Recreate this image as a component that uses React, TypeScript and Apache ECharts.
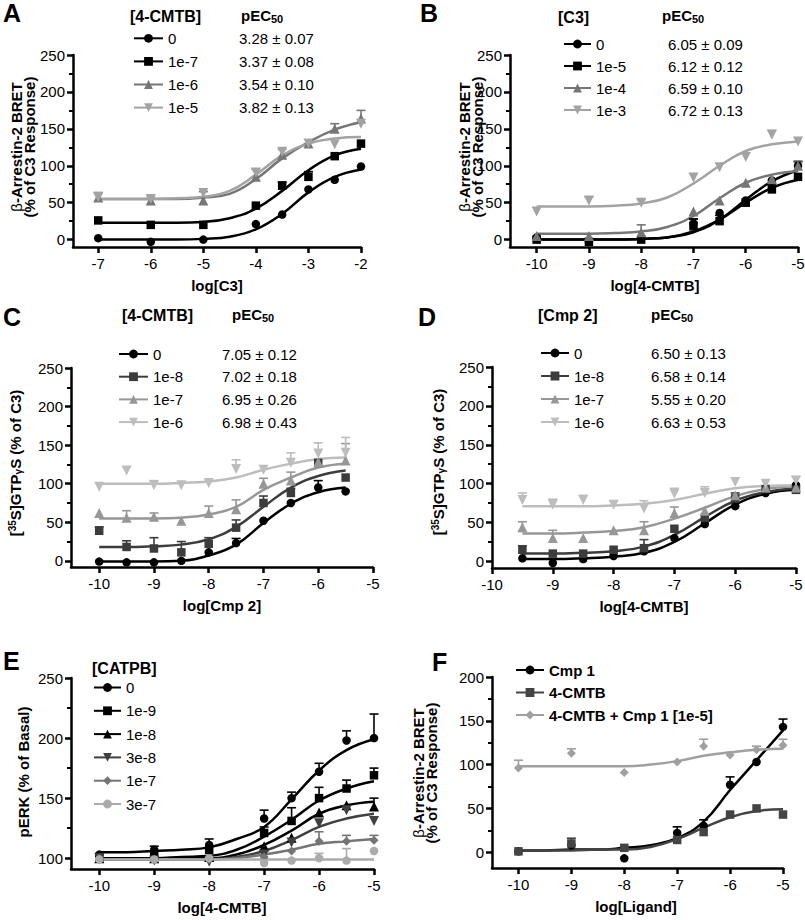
import React, { useEffect, useRef } from 'react';
import * as echarts from 'echarts';

const FONT = '"Liberation Sans", Arial, Helvetica, sans-serif';

// ---------------- Panel A ----------------
const A_NAMES = ['0', '1e-7', '1e-6', '1e-5'];
const A_PEC50 = ['3.28 ± 0.07', '3.37 ± 0.08', '3.54 ± 0.10', '3.82 ± 0.13'];
const A_X = [-7, -6, -5, -4, -3.5, -3, -2.5, -2];
const A_Y = [
  [2, -3, 0, 21, 34, 68, 81, 99],
  [26, 20, 20, 46, 73, 85, 113, 130],
  [57, 53, 53, 85, 115, 130, 150, 164],
  [57, 55, 63, 91, 119, 130, 129, 157],
];
const A_ERR = [
  [null, null, null, null, null, null, null, null],
  [null, null, null, null, 78, 92, null, null],
  [63, null, 65, null, null, null, 157, 175],
  [64, 58, null, 95, 122, null, null, null],
];
const A_CX = [-7, -6.5, -6, -5.5, -5, -4.5, -4, -3.5, -3, -2.5, -2];
const A_CY = [
  [0, 0, 0, 0, 1, 4, 14, 35, 64, 85, 95],
  [23, 23, 23, 23, 24, 29, 42, 66, 94, 114, 123],
  [55, 55, 55, 55, 57, 62, 82, 110, 132, 149, 159],
  [55, 55, 55, 56, 58, 66, 88, 114, 130, 137, 139],
];

// ---------------- Panel B ----------------
const B_NAMES = ['0', '1e-5', '1e-4', '1e-3'];
const B_PEC50 = ['6.05 ± 0.09', '6.12 ± 0.12', '6.59 ± 0.10', '6.72 ± 0.13'];
const B_X = [-10, -9, -8, -7, -6.5, -6, -5.5, -5];
const B_Y = [
  [3, -3, 2, 22, 36, 53, 80, 100],
  [0, -3, 0, 18, 25, 50, 68, 85],
  [5, 5, 10, 38, 53, 77, 82, 100],
  [38, 53, 50, 84, 98, 112, 142, 133],
];
const B_ERR = [
  [null, null, null, 28, null, null, null, 106],
  [null, null, null, 28, 33, null, 74, null],
  [null, null, 20, null, null, null, null, 105],
  [null, 58, 54, null, null, 117, 148, null],
];
const B_CX = [-10, -9.5, -9, -8.5, -8, -7.5, -7, -6.5, -6, -5.5, -5];
const B_CY = [
  [0, 0, 0, 0, 1, 3, 10, 27, 54, 79, 94],
  [0, 0, 0, 0, 1, 3, 11, 27, 50, 70, 81],
  [8, 8, 8, 9, 11, 17, 32, 56, 77, 88, 93],
  [45, 45, 45, 46, 49, 57, 76, 100, 120, 129, 133],
];

// ---------------- Panel C ----------------
const C_NAMES = ['0', '1e-8', '1e-7', '1e-6'];
const C_PEC50 = ['7.05 ± 0.12', '7.02 ± 0.18', '6.95 ± 0.26', '6.98 ± 0.43'];
const C_X = [-10, -9.5, -9, -8.5, -8, -7.5, -7, -6.5, -6, -5.5];
const C_Y = [
  [-1, -2, -2, 0, 11, 23, 52, 75, 95, 90],
  [39, 18, 16, 11, 22, 43, 75, 88, 127, 108],
  [62, 56, 57, 52, 62, 67, 100, 104, 128, 130],
  [96, 117, 98, 98, 101, 119, 118, 127, 139, 140],
];
const C_ERR = [
  [null, null, null, null, null, 29, null, null, 104, null],
  [44, 26, 30, 25, 30, 53, 84, 94, null, null],
  [null, 65, 62, null, 71, 79, 107, 115, null, 152],
  [null, 122, 104, null, null, 131, null, 140, 153, 160],
];
const C_CX = [-10, -9.5, -9, -8.5, -8, -7.5, -7, -6.5, -6, -5.5];
const C_CY = [
  [-1, -1, -1, 0, 7, 21, 49, 74, 89, 95],
  [18, 18, 19, 21, 28, 44, 70, 95, 110, 117],
  [55, 55, 55, 56, 60, 70, 92, 108, 121, 126],
  [100, 100, 100, 101, 103, 108, 118, 126, 132, 134],
];

// ---------------- Panel D ----------------
const D_NAMES = ['0', '1e-8', '1e-7', '1e-6'];
const D_PEC50 = ['6.50 ± 0.13', '6.58 ± 0.14', '5.55 ± 0.20', '6.63 ± 0.53'];
const D_X = [-9.5, -9, -8.5, -8, -7.5, -7, -6.5, -6, -5.5, -5];
const D_Y = [
  [4, -2, 3, 7, 13, 30, 48, 71, 88, 98],
  [15, 10, 10, 15, 17, 42, 56, 81, 93, 92],
  [44, 30, 30, 40, 40, 62, 65, 85, 95, 95],
  [79, 73, 79, 73, 68, 87, 88, 102, 100, 104],
];
const D_ERR = [
  [null, null, null, null, null, null, null, null, null, null],
  [20, null, null, null, 28, null, null, 88, null, null],
  [51, 40, null, null, 51, 70, null, null, null, null],
  [88, 80, 85, 78, 78, 94, 96, null, null, 109],
];
const D_CX = [-9.5, -9, -8.5, -8, -7.5, -7, -6.5, -6, -5.5, -5];
const D_CY = [
  [3, 3, 4, 6, 11, 25, 49, 73, 87, 92],
  [10, 10, 11, 13, 19, 34, 57, 78, 89, 94],
  [36, 36, 37, 39, 44, 55, 69, 84, 93, 97],
  [71, 71, 71, 72, 74, 79, 87, 94, 97, 98],
];

// ---------------- Panel E ----------------
const E_NAMES = ['0', '1e-9', '1e-8', '3e-8', '1e-7', '3e-7'];
const E_X = [-10, -9, -8, -7, -6.5, -6, -5.5, -5];
const E_Y = [
  [103, 107, 111, 133, 150, 172, 198, 200],
  [101, 102, 107, 121, 131, 150, 158, 169],
  [100, 100, 101, 110, 117, 138, 144, 143],
  [100, 98, 97, 103, 113, 129, 140, 131],
  [100, 99, 99, 101, 106, 114, 114, 115],
  [99, 99, 100, 96, 98, 100, 98, 106],
];
const E_ERR = [
  [null, 110, 116, 140, 155, 179, 206, 220],
  [null, null, null, 126, 142, 159, 165, 175],
  [null, null, null, null, null, null, null, 150],
  [null, null, null, null, null, null, null, null],
  [null, null, null, null, null, 122, 119, 119],
  [null, null, null, null, null, 104, 108, null],
];
const E_CX = [-10, -9.5, -9, -8.5, -8, -7.5, -7, -6.5, -6, -5.5, -5];
const E_CY = [
  [105, 105, 106, 107, 109, 116, 126, 149, 173, 190, 199],
  [100, 100, 100, 101, 102, 107, 118, 132, 148, 158, 164],
  [99, 99, 99, 100, 100, 103, 111, 123, 137, 144, 147],
  [99, 99, 99, 99, 99, 101, 106, 115, 126, 133, 137],
  [99, 99, 99, 99, 99, 100, 103, 107, 112, 114, 116],
  [99, 99, 99, 99, 99, 99, 99, 99, 99, 99, 99],
];

// ---------------- Panel F ----------------
const F_NAMES = ['Cmp 1', '4-CMTB', '4-CMTB + Cmp 1 [1e-5]'];
const F_X = [-10, -9, -8, -7, -6.5, -6, -5.5, -5];
const F_Y = [
  [1, 8, -7, 22, 30, 77, 103, 143],
  [1, 10, 5, 14, 23, 43, 50, 43],
  [96, 113, 91, 103, 121, 111, 117, 122],
];
const F_ERR = [
  [null, null, null, 29, 37, 86, null, 152],
  [null, 16, null, null, null, null, null, null],
  [105, 118, null, null, 129, null, 121, 129],
];
const F_CX = [-10, -9.5, -9, -8.5, -8, -7.5, -7, -6.5, -6, -5.5, -5];
const F_CY = [
  [2, 2, 3, 3, 5, 8, 16, 35, 71, 105, 139],
  [2, 2, 2, 3, 3, 6, 15, 28, 40, 47, 49],
  [98, 98, 98, 98, 98, 100, 104, 110, 114, 117, 118],
];

// tick values
const TICKS_A = [-7, -6, -5, -4, -3, -2];
const TICKS_10_5 = [-10, -9, -8, -7, -6, -5];
const Y_MAJOR_250 = [0, 50, 100, 150, 200, 250];
const Y_MINOR_250 = [25, 75, 125, 175, 225];
const Y_MAJOR_E = [100, 150, 200, 250];
const Y_MINOR_E = [125, 175, 225];
const Y_MAJOR_F = [0, 50, 100, 150, 200];
const Y_MINOR_F = [25, 75, 125, 175];

// styles (not data)
const COL_AB = ['#000000', '#000000', '#767676', '#a3a3a3'];
const COL_CD = ['#000000', '#3c3c3c', '#979797', '#bdbdbd'];
const COL_E = ['#000000', '#000000', '#000000', '#404040', '#757575', '#ababab'];
const COL_F = ['#000000', '#444444', '#a0a0a0'];
const SYM_4 = ['circle', 'rect', 'triangle', 'triangle'];
const ROT_4 = [0, 0, 0, 180];
const SYM_E = ['circle', 'rect', 'triangle', 'triangle', 'diamond', 'circle'];
const ROT_E = [0, 0, 0, 180, 0, 0];
const SYM_F = ['circle', 'rect', 'diamond'];
const ROT_F = [0, 0, 0];

type Panel = {
  key: string;
  grid: { left: number; top: number; width: number; height: number };
  xMin: number; xMax: number; yMin: number; yMax: number;
  xTicks: number[]; yMajor: number[]; yMinor: number[];
  names: string[]; pec?: string[];
  colors: string[]; symbols: string[]; rotates: number[];
  x: number[]; y: number[][]; err: (number | null)[][];
  cx: number[]; cy: number[][];
  legend: { left: number; top: number; gap: number; itemWidth: number; nameWidth?: number; bold?: boolean };
};

const PANELS: Panel[] = [
  {
    key: 'A', grid: { left: 73, top: 55, width: 288, height: 192 },
    xMin: -7.48, xMax: -2, yMin: -10, yMax: 250,
    xTicks: TICKS_A, yMajor: Y_MAJOR_250, yMinor: Y_MINOR_250,
    names: A_NAMES, pec: A_PEC50, colors: COL_AB, symbols: SYM_4, rotates: ROT_4,
    x: A_X, y: A_Y, err: A_ERR, cx: A_CX, cy: A_CY,
    legend: { left: 133, top: 30.8, gap: 8.1, itemWidth: 29, nameWidth: 71 },
  },
  {
    key: 'B', grid: { left: 510, top: 55, width: 288, height: 192 },
    xMin: -10.51, xMax: -5, yMin: -10, yMax: 250,
    xTicks: TICKS_10_5, yMajor: Y_MAJOR_250, yMinor: Y_MINOR_250,
    names: B_NAMES, pec: B_PEC50, colors: COL_AB, symbols: SYM_4, rotates: ROT_4,
    x: B_X, y: B_Y, err: B_ERR, cx: B_CX, cy: B_CY,
    legend: { left: 563, top: 36.5, gap: 7, itemWidth: 27, nameWidth: 72 },
  },
  {
    key: 'C', grid: { left: 71, top: 368, width: 302, height: 199 },
    xMin: -10.515, xMax: -5, yMin: -8, yMax: 250,
    xTicks: TICKS_10_5, yMajor: Y_MAJOR_250, yMinor: Y_MINOR_250,
    names: C_NAMES, pec: C_PEC50, colors: COL_CD, symbols: SYM_4, rotates: ROT_4,
    x: C_X, y: C_Y, err: C_ERR, cx: C_CX, cy: C_CY,
    legend: { left: 118, top: 346.5, gap: 7.7, itemWidth: 29, nameWidth: 69 },
  },
  {
    key: 'D', grid: { left: 492, top: 367, width: 304, height: 201 },
    xMin: -10, xMax: -5, yMin: -8.5, yMax: 250,
    xTicks: TICKS_10_5, yMajor: Y_MAJOR_250, yMinor: Y_MINOR_250,
    names: D_NAMES, pec: D_PEC50, colors: COL_CD, symbols: SYM_4, rotates: ROT_4,
    x: D_X, y: D_Y, err: D_ERR, cx: D_CX, cy: D_CY,
    legend: { left: 540, top: 345.5, gap: 8, itemWidth: 28, nameWidth: 77 },
  },
  {
    key: 'E', grid: { left: 71, top: 678, width: 303, height: 191 },
    xMin: -10.515, xMax: -5, yMin: 91, yMax: 250,
    xTicks: TICKS_10_5, yMajor: Y_MAJOR_E, yMinor: Y_MINOR_E,
    names: E_NAMES, colors: COL_E, symbols: SYM_E, rotates: ROT_E,
    x: E_X, y: E_Y, err: E_ERR, cx: E_CX, cy: E_CY,
    legend: { left: 93, top: 680, gap: 8.3, itemWidth: 27 },
  },
  {
    key: 'F', grid: { left: 492, top: 677, width: 291, height: 191 },
    xMin: -10.5, xMax: -5, yMin: -18, yMax: 200,
    xTicks: TICKS_10_5, yMajor: Y_MAJOR_F, yMinor: Y_MINOR_F,
    names: F_NAMES, colors: COL_F, symbols: SYM_F, rotates: ROT_F,
    x: F_X, y: F_Y, err: F_ERR, cx: F_CX, cy: F_CY,
    legend: { left: 515, top: 662.5, gap: 7.5, itemWidth: 28, bold: true },
  },
];

const AXIS_W = 2.5;

function buildOption(): any {
  const grid: any[] = [];
  const xAxis: any[] = [];
  const yAxis: any[] = [];
  const series: any[] = [];
  const legend: any[] = [];

  PANELS.forEach((p, i) => {
    grid.push({ ...p.grid, containLabel: false, outerBoundsMode: 'none' });
    xAxis.push({
      gridIndex: i, type: 'value', min: p.xMin, max: p.xMax,
      axisLine: { show: true, onZero: false, lineStyle: { color: '#000', width: AXIS_W } },
      axisTick: { show: true, customValues: p.xTicks, length: 6, inside: false, lineStyle: { color: '#000', width: AXIS_W } },
      axisLabel: { show: true, customValues: p.xTicks, fontSize: 15, color: '#000', fontFamily: FONT, margin: 9, hideOverlap: false },
      splitLine: { show: false }, minorTick: { show: false },
    });
    yAxis.push({
      gridIndex: i, type: 'value', min: p.yMin, max: p.yMax, position: 'left',
      axisLine: { show: true, onZero: false, lineStyle: { color: '#000', width: AXIS_W } },
      axisTick: { show: true, customValues: p.yMajor, length: 6, inside: false, lineStyle: { color: '#000', width: AXIS_W } },
      axisLabel: { show: true, customValues: p.yMajor, fontSize: 15, color: '#000', fontFamily: FONT, margin: 8, hideOverlap: false },
      splitLine: { show: false },
    });
    yAxis.push({
      gridIndex: i, type: 'value', min: p.yMin, max: p.yMax, position: 'left', offset: 0,
      axisLine: { show: false, onZero: false },
      axisTick: { show: true, customValues: p.yMinor, length: 4, inside: false, lineStyle: { color: '#000', width: 2 } },
      axisLabel: { show: false },
      splitLine: { show: false },
    });

    const yIdx = i * 2;
    // fitted curves
    p.names.forEach((n, k) => {
      series.push({
        type: 'line', name: `${p.key}|${n}`, xAxisIndex: i, yAxisIndex: yIdx,
        data: p.cx.map((xv, j) => [xv, p.cy[k][j]]),
        smooth: 0.45, showSymbol: false,
        symbol: p.symbols[k], symbolRotate: p.rotates[k], symbolSize: 8,
        color: p.colors[k],
        lineStyle: { color: p.colors[k], width: 2.5 },
        itemStyle: { color: p.colors[k], borderWidth: 0 },
        silent: true, z: 2,
      });
    });
    // error bars
    p.names.forEach((n, k) => {
      const d: number[][] = [];
      p.x.forEach((xv, j) => {
        const e = p.err[k][j];
        if (e !== null && e !== undefined) d.push([xv, p.y[k][j], e]);
      });
      const col = p.colors[k];
      series.push({
        type: 'custom', name: `${p.key}|${n}|err`, xAxisIndex: i, yAxisIndex: yIdx,
        data: d, silent: true, z: 3,
        renderItem: (_params: any, api: any) => {
          const xv = api.value(0), yv = api.value(1), ev = api.value(2);
          const p0 = api.coord([xv, yv]);
          const p1 = api.coord([xv, ev]);
          return {
            type: 'group',
            children: [
              { type: 'line', shape: { x1: p0[0], y1: p0[1], x2: p1[0], y2: p1[1] }, style: { stroke: col, lineWidth: 1.6 } },
              { type: 'line', shape: { x1: p1[0] - 4.5, y1: p1[1], x2: p1[0] + 4.5, y2: p1[1] }, style: { stroke: col, lineWidth: 1.6 } },
            ],
          };
        },
      });
    });
    // data points
    p.names.forEach((n, k) => {
      const sym = p.symbols[k];
      const size = sym === 'triangle' ? 10 : sym === 'diamond' ? 9 : 8.5;
      series.push({
        type: 'scatter', name: `${p.key}|${n}|pts`, xAxisIndex: i, yAxisIndex: yIdx,
        data: p.x.map((xv, j) => [xv, p.y[k][j]]),
        symbol: sym, symbolRotate: p.rotates[k], symbolSize: size,
        itemStyle: { color: p.colors[k], opacity: 1 },
        silent: true, z: 4,
      });
    });

    const lg = p.legend;
    const rich: any = {
      n: { fontSize: 15, fontFamily: FONT, color: '#000', width: lg.nameWidth || 0, fontWeight: lg.bold ? 'bold' : 'normal' },
      v: { fontSize: 15, fontFamily: FONT, color: '#000' },
    };
    legend.push({
      show: true, orient: 'vertical', left: lg.left, top: lg.top, padding: 0,
      itemGap: lg.gap, itemWidth: lg.itemWidth, itemHeight: 11,
      selectedMode: false,
      data: p.names.map((n) => `${p.key}|${n}`),
      formatter: (name: string) => {
        const nm = name.split('|')[1];
        const idx = p.names.indexOf(nm);
        if (p.pec) return `{n|${nm}}{v|${p.pec[idx]}}`;
        return `{n|${nm}}`;
      },
      textStyle: { fontSize: 15, fontFamily: FONT, color: '#000', rich },
    });
  });

  const txt = (x: number, y: number, text: string, opts: any = {}) => ({
    type: 'text', x, y, rotation: opts.rotation || 0, silent: true,
    style: {
      text, fill: '#000', fontFamily: FONT, fontSize: opts.fontSize || 15,
      fontWeight: opts.fontWeight || 'bold', align: opts.align || 'left',
      verticalAlign: opts.verticalAlign || 'middle', rich: opts.rich, lineHeight: opts.lineHeight,
    },
  });

  const richTitle = {
    b: { fontSize: 15, fontWeight: 'bold', fontFamily: FONT, fill: '#000', lineHeight: 13 },
    n: { fontSize: 15, fontWeight: 'normal', fontFamily: FONT, fill: '#000', lineHeight: 13 },
  };
  const richTitle1 = {
    b: { fontSize: 15, fontWeight: 'bold', fontFamily: FONT, fill: '#000', lineHeight: 16 },
    sup: { fontSize: 10, fontWeight: 'bold', fontFamily: FONT, fill: '#000', lineHeight: 10, verticalAlign: 'top' },
    sub: { fontSize: 10, fontWeight: 'bold', fontFamily: FONT, fill: '#000', lineHeight: 10, verticalAlign: 'bottom' },
  };
  const richPec = {
    p: { fontSize: 15, fontWeight: 'bold', fontFamily: FONT, fill: '#000', lineHeight: 18 },
    s: { fontSize: 11, fontWeight: 'bold', fontFamily: FONT, fill: '#000', lineHeight: 10, verticalAlign: 'bottom' },
  };
  const ROT = Math.PI / 2;
  const arrTitle = '{n|β}{b|-Arrestin-2 BRET}\n{b|(% of C3 Response)}';
  const gtpTitle = '{b|[}{sup|35}{b|S]GTP}{sub|γ}{b|S (% of C3)}';
  const T = 'top';

  const graphic: any[] = [
    // panel letters
    txt(3, 0, 'A', { fontSize: 25, verticalAlign: T, lineHeight: 26 }),
    txt(420, 0, 'B', { fontSize: 25, verticalAlign: T, lineHeight: 26 }),
    txt(3, 317, 'C', { fontSize: 25 }),
    txt(418, 317, 'D', { fontSize: 25 }),
    txt(3, 661, 'E', { fontSize: 25 }),
    txt(432, 662, 'F', { fontSize: 25 }),
    // legend headers
    txt(130, 16, '[4-CMTB]', { fontSize: 16 }),
    txt(241, 6, '{p|pEC}{s|50}', { rich: richPec, verticalAlign: T }),
    txt(558, 17, '[C3]', { fontSize: 16 }),
    txt(662, 6, '{p|pEC}{s|50}', { rich: richPec, verticalAlign: T }),
    txt(122, 315, '[4-CMTB]', { fontSize: 16 }),
    txt(232, 305, '{p|pEC}{s|50}', { rich: richPec, verticalAlign: T }),
    txt(538, 315, '[Cmp 2]', { fontSize: 16 }),
    txt(651, 305, '{p|pEC}{s|50}', { rich: richPec, verticalAlign: T }),
    txt(92, 668, '[CATPB]', { fontSize: 16 }),
    // x titles
    txt(217, 285, 'log[C3]', { align: 'center' }),
    txt(655, 285, 'log[4-CMTB]', { align: 'center' }),
    txt(222, 605, 'log[Cmp 2]', { align: 'center' }),
    txt(644, 606, 'log[4-CMTB]', { align: 'center' }),
    txt(222, 907, 'log[4-CMTB]', { align: 'center' }),
    txt(636, 906, 'log[Ligand]', { align: 'center' }),
    // y titles (rotated)
    txt(10, 147, arrTitle, { rotation: ROT, align: 'center', rich: richTitle, verticalAlign: T }),
    txt(458, 147, arrTitle, { rotation: ROT, align: 'center', rich: richTitle, verticalAlign: T }),
    txt(7.5, 463, gtpTitle, { rotation: ROT, align: 'center', rich: richTitle1, verticalAlign: T }),
    txt(430, 462, gtpTitle, { rotation: ROT, align: 'center', rich: richTitle1, verticalAlign: T }),
    txt(16, 772, 'pERK (% of Basal)', { rotation: ROT, align: 'center', verticalAlign: T, lineHeight: 15 }),
    txt(411.5, 773, arrTitle, { rotation: ROT, align: 'center', rich: richTitle, verticalAlign: T }),
  ];

  return {
    animation: false,
    backgroundColor: '#ffffff',
    textStyle: { fontFamily: FONT },
    grid, xAxis, yAxis, series, legend, graphic,
    tooltip: { show: false },
  };
}

export default function App() {
  const ref = useRef<HTMLDivElement>(null);
  useEffect(() => {
    if (!ref.current) return;
    const chart = echarts.init(ref.current, null, { renderer: 'svg' });
    chart.setOption(buildOption());
    return () => chart.dispose();
  }, []);
  return (
    <div
      ref={ref}
      style={{ position: 'absolute', left: 0, top: 0, width: 805, height: 920, background: '#fff' }}
    />
  );
}
